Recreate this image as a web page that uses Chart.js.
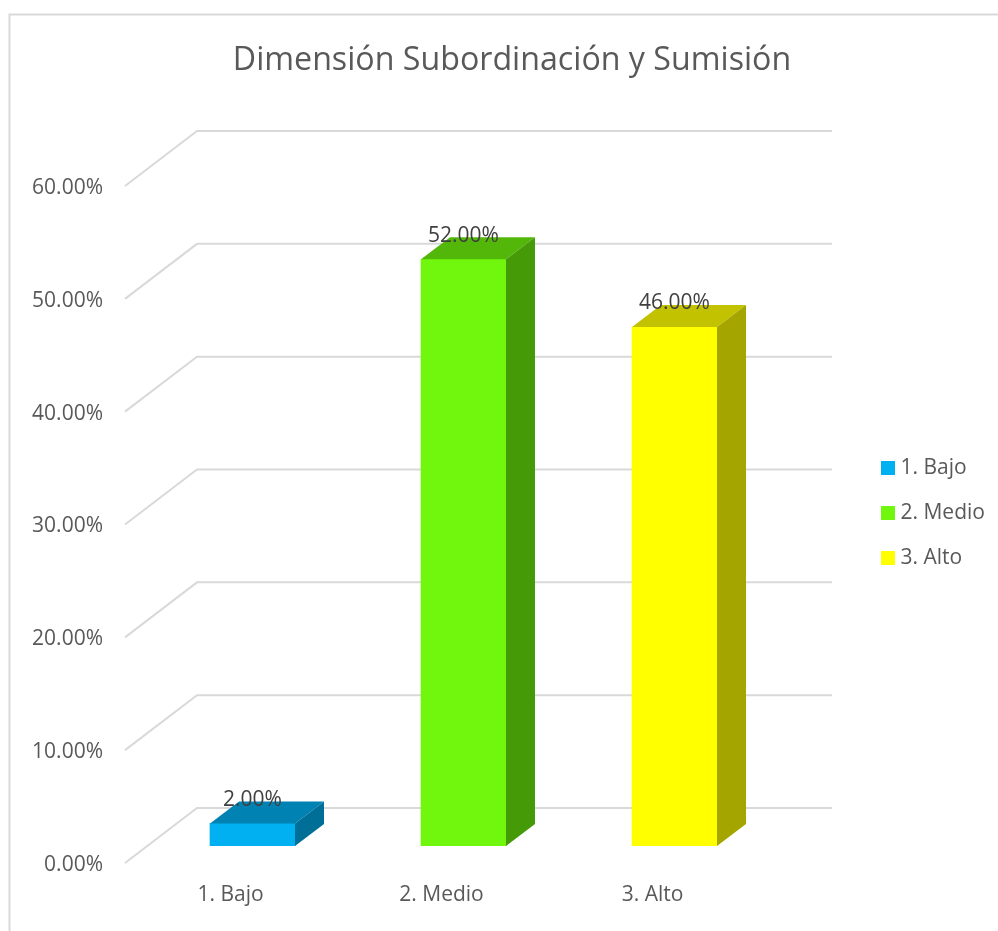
<!DOCTYPE html>
<html lang="es">
<head>
<meta charset="utf-8">
<title>Dimensión Subordinación y Sumisión</title>
<script src="https://cdn.jsdelivr.net/npm/chart.js@4/dist/chart.umd.min.js"></script>
<style>html,body{margin:0;padding:0;background:#fff;overflow:hidden}canvas{display:block}</style>
</head>
<body>
<canvas id="c" width="998" height="931"></canvas>
<script>
const chartTitle = "Dimensión Subordinación y Sumisión";
const categories = ["1. Bajo", "2. Medio", "3. Alto"];
const values = [2, 52, 46];
const frontColors = ["#00B0F0", "#70F70D", "#FFFF00"];
const topColors = ["#0082B2", "#53B70A", "#C2C200"];
const sideColors = ["#006F98", "#459A08", "#A5A500"];

const FONT = "'Open Sans', sans-serif";
const TEXT = "#595959";
const GRID = "#D9D9D9";
const WALL = {dx: 72, dy: -55};
const BAR_SHIFT = {dx: 22, dy: -17};
const BAR_DEPTH = {dx: 29, dy: -22};

const chart3d = {
  id: "chart3d",
  beforeInit(chart) {
    const fit = chart.legend.fit;
    chart.legend.fit = function () { fit.call(this); this.width = 240; };
  },
  afterLayout(chart) {
    const l = chart.legend, pad = l.options.labels.padding;
    const h = l.height;
    l.left = 886 - pad; l.right = chart.width;
    l.top = 457.5 - pad; l.bottom = l.top + h;
  },
  beforeDraw(chart) {
    const ctx = chart.ctx;
    ctx.save();
    ctx.strokeStyle = GRID; ctx.lineWidth = 2;
    ctx.beginPath();
    ctx.moveTo(9.5, chart.height); ctx.lineTo(9.5, 14.5); ctx.lineTo(chart.width, 14.5);
    ctx.stroke();
    ctx.restore();
  },
  beforeDatasetsDraw(chart) {
    const ctx = chart.ctx, y = chart.scales.y, a = chart.chartArea;
    ctx.save();
    ctx.strokeStyle = GRID; ctx.lineWidth = 2;
    y.ticks.forEach(t => {
      const py = y.getPixelForValue(t.value);
      ctx.beginPath();
      ctx.moveTo(a.left, py);
      ctx.lineTo(a.left + WALL.dx, py + WALL.dy);
      ctx.lineTo(a.right + WALL.dx + 2, py + WALL.dy);
      ctx.stroke();
    });
    ctx.restore();
  },
  beforeDatasetDraw(chart) {
    chart.ctx.save();
    chart.ctx.translate(BAR_SHIFT.dx, BAR_SHIFT.dy);
  },
  afterDatasetDraw(chart, args) {
    const ctx = chart.ctx;
    chart.getDatasetMeta(args.index).data.forEach((bar, i) => {
      const L = bar.x - bar.width / 2, R = bar.x + bar.width / 2, T = bar.y, B = bar.base;
      ctx.fillStyle = topColors[i];
      ctx.beginPath();
      ctx.moveTo(L, T); ctx.lineTo(L + BAR_DEPTH.dx, T + BAR_DEPTH.dy);
      ctx.lineTo(R + BAR_DEPTH.dx, T + BAR_DEPTH.dy); ctx.lineTo(R, T);
      ctx.closePath(); ctx.fill();
      ctx.fillStyle = sideColors[i];
      ctx.beginPath();
      ctx.moveTo(R, T); ctx.lineTo(R + BAR_DEPTH.dx, T + BAR_DEPTH.dy);
      ctx.lineTo(R + BAR_DEPTH.dx, B + BAR_DEPTH.dy); ctx.lineTo(R, B);
      ctx.closePath(); ctx.fill();
    });
    ctx.restore();
  },
  afterDatasetsDraw(chart) {
    const ctx = chart.ctx;
    ctx.save();
    ctx.font = "21px " + FONT;
    ctx.fillStyle = "#404040";
    ctx.textAlign = "center"; ctx.textBaseline = "middle";
    chart.getDatasetMeta(0).data.forEach((bar, i) => {
      ctx.fillText(values[i].toFixed(2) + "%", bar.x + BAR_SHIFT.dx, bar.y + BAR_SHIFT.dy - 23.5);
    });
    ctx.restore();
  }
};

new Chart(document.getElementById("c"), {
  type: "bar",
  data: {
    labels: categories,
    datasets: [{
      data: values,
      backgroundColor: frontColors,
      borderWidth: 0,
      barThickness: 85
    }]
  },
  plugins: [chart3d],
  options: {
    responsive: false,
    animation: false,
    layout: {padding: {left: 26, right: 0, top: 0, bottom: 0}},
    plugins: {
      tooltip: {enabled: false},
      title: {
        display: true,
        text: chartTitle,
        color: TEXT,
        font: {family: FONT, size: 32.2, weight: "normal", lineHeight: 1.2},
        padding: {top: 42, bottom: 105.36}
      },
      legend: {
        display: true,
        position: "right",
        align: "start",
        labels: {
          boxWidth: 4,
          boxHeight: 4,
          padding: 24,
          color: TEXT,
          font: {family: FONT, size: 21},
          generateLabels: () => categories.map((c, i) => ({
            text: c,
            fillStyle: frontColors[i],
            strokeStyle: frontColors[i],
            lineWidth: 10,
            fontColor: TEXT,
            index: i
          }))
        }
      }
    },
    scales: {
      x: {
        type: "category",
        grid: {display: false, drawTicks: false},
        border: {display: false},
        ticks: {color: TEXT, font: {family: FONT, size: 21}, padding: 19, maxRotation: 0},
        afterFit(s) { s.height = 68; }
      },
      y: {
        min: 0,
        max: 60,
        grid: {display: false, drawTicks: false},
        border: {display: false},
        ticks: {
          stepSize: 10,
          color: TEXT,
          font: {family: FONT, size: 21},
          padding: 22,
          labelOffset: 2,
          callback: v => v.toFixed(2) + "%"
        },
        afterFit(s) { s.width = 99; }
      }
    }
  }
});
</script>
</body>
</html>
